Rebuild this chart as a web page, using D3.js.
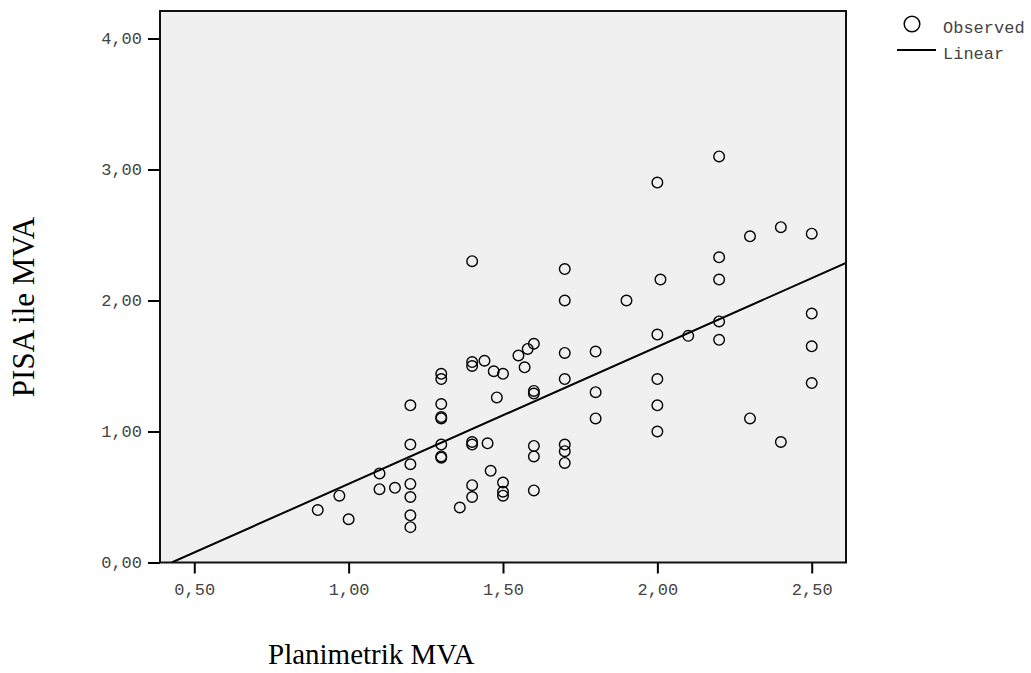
<!DOCTYPE html>
<html>
<head>
<meta charset="utf-8">
<script src="https://cdn.jsdelivr.net/npm/d3@7/dist/d3.min.js"></script>
<style>
  body { margin: 0; background: #fff; }
  svg { display: block; }
</style>
</head>
<body>
<svg id="chart"></svg>
<script>
// Planimetrik MVA (x) vs PISA ile MVA (y)
var planimetrik = [
  0.90, 0.97, 1.00, 1.10, 1.10, 1.15,
  1.20, 1.20, 1.20, 1.20, 1.20, 1.20, 1.20,
  1.30, 1.30, 1.30, 1.30, 1.30, 1.30, 1.30, 1.30,
  1.36,
  1.40, 1.40, 1.40, 1.40, 1.40, 1.40, 1.40,
  1.44, 1.45, 1.46, 1.47, 1.48,
  1.50, 1.50, 1.50, 1.50,
  1.55, 1.57, 1.58,
  1.60, 1.60, 1.60, 1.60, 1.60, 1.60,
  1.70, 1.70, 1.70, 1.70, 1.70, 1.70, 1.70,
  1.80, 1.80, 1.80,
  1.90,
  2.00, 2.00, 2.00, 2.00, 2.00,
  2.01, 2.10,
  2.20, 2.20, 2.20, 2.20, 2.20,
  2.30, 2.30,
  2.40, 2.40,
  2.50, 2.50, 2.50, 2.50
];
var pisa = [
  0.40, 0.51, 0.33, 0.68, 0.56, 0.57,
  1.20, 0.90, 0.75, 0.60, 0.50, 0.36, 0.27,
  1.44, 1.40, 1.21, 1.10, 1.11, 0.90, 0.81, 0.80,
  0.42,
  2.30, 1.53, 1.50, 0.92, 0.90, 0.59, 0.50,
  1.54, 0.91, 0.70, 1.46, 1.26,
  1.44, 0.61, 0.54, 0.51,
  1.58, 1.49, 1.63,
  1.67, 1.31, 1.29, 0.89, 0.81, 0.55,
  2.24, 2.00, 1.60, 1.40, 0.90, 0.85, 0.76,
  1.61, 1.30, 1.10,
  2.00,
  2.90, 1.74, 1.40, 1.20, 1.00,
  2.16, 1.73,
  3.10, 2.33, 2.16, 1.84, 1.70,
  2.49, 1.10,
  2.56, 0.92,
  2.51, 1.90, 1.65, 1.37
];
// linear fit line: [intercept, slope]
var linearFit = [-0.447, 1.047];
var xTicks = [0.5, 1.0, 1.5, 2.0, 2.5];
var yTicks = [0, 1, 2, 3, 4];
var legendLabels = ["Observed", "Linear"];

var width = 1031, height = 673;
var pLeft = 160, pRight = 846, pTop = 11, pBottom = 562.5;

var svg = d3.select("#chart").attr("width", width).attr("height", height);

var x = d3.scaleLinear().domain([0.389, 2.611]).range([pLeft, pRight]);
var y = d3.scaleLinear().domain([0, 4.21]).range([pBottom, pTop]);

var fmt = function(d) { return d3.format(".2f")(d).replace(".", ","); };
var mono = "'Liberation Mono', 'Courier New', monospace";
var serif = "'Liberation Serif', 'Times New Roman', serif";

svg.append("rect")
    .attr("x", pLeft).attr("y", pTop)
    .attr("width", pRight - pLeft).attr("height", pBottom - pTop)
    .attr("fill", "#f0f0f0");

// axes
var xAxis = svg.append("g")
    .attr("transform", "translate(0," + pBottom + ")")
    .call(d3.axisBottom(x).tickValues(xTicks).tickSize(11).tickPadding(9).tickFormat(fmt));
var yAxis = svg.append("g")
    .attr("transform", "translate(" + pLeft + ",0)")
    .call(d3.axisLeft(y).tickValues(yTicks).tickSize(12).tickPadding(6).tickFormat(fmt));

[xAxis, yAxis].forEach(function(a) {
    a.select(".domain").remove();
    a.selectAll(".tick line").attr("stroke", "#000").attr("stroke-width", 2);
    a.selectAll(".tick text")
        .attr("font-family", mono)
        .attr("font-size", 17)
        .attr("fill", "#444");
});

// fit line, clipped to the plot frame
svg.append("clipPath").attr("id", "plotclip")
  .append("rect")
    .attr("x", pLeft).attr("y", pTop)
    .attr("width", pRight - pLeft).attr("height", pBottom - pTop);

var xd = x.domain();
var line = d3.line()
    .x(function(d) { return x(d); })
    .y(function(d) { return y(linearFit[0] + linearFit[1] * d); });

var x0 = -linearFit[0] / linearFit[1];
svg.append("path")
    .datum([x0, xd[1]])
    .attr("clip-path", "url(#plotclip)")
    .attr("fill", "none")
    .attr("stroke", "#000")
    .attr("stroke-width", 2)
    .attr("d", line);

// observed points
svg.append("g")
    .selectAll("circle")
    .data(planimetrik)
    .join("circle")
    .attr("cx", function(d) { return x(d); })
    .attr("cy", function(d, i) { return y(pisa[i]); })
    .attr("r", 5.3)
    .attr("fill", "none")
    .attr("stroke", "#000")
    .attr("stroke-width", 1.4);

// frame
svg.append("rect")
    .attr("x", pLeft).attr("y", pTop)
    .attr("width", pRight - pLeft).attr("height", pBottom - pTop)
    .attr("fill", "none")
    .attr("stroke", "#111")
    .attr("stroke-width", 2);

// axis titles
svg.append("text")
    .attr("x", 268)
    .attr("y", 664)
    .attr("font-family", serif)
    .attr("font-size", 29)
    .attr("fill", "#000")
    .text("Planimetrik MVA");

svg.append("text")
    .attr("transform", "translate(34,307) rotate(-90)")
    .attr("text-anchor", "middle")
    .attr("font-family", serif)
    .attr("font-size", 31)
    .attr("fill", "#000")
    .text("PISA ile MVA");

// legend
var legend = svg.append("g");
legend.append("circle")
    .attr("cx", 912).attr("cy", 24).attr("r", 7.8)
    .attr("fill", "none").attr("stroke", "#000").attr("stroke-width", 1.5);
legend.append("line")
    .attr("x1", 897).attr("x2", 936).attr("y1", 50).attr("y2", 50)
    .attr("stroke", "#000").attr("stroke-width", 2);
legend.selectAll("text")
    .data(legendLabels)
    .join("text")
    .attr("x", 943)
    .attr("y", function(d, i) { return 27 + i * 26; })
    .attr("dy", "0.35em")
    .attr("font-family", mono)
    .attr("font-size", 17)
    .attr("fill", "#444")
    .text(function(d) { return d; });
</script>
</body>
</html>
